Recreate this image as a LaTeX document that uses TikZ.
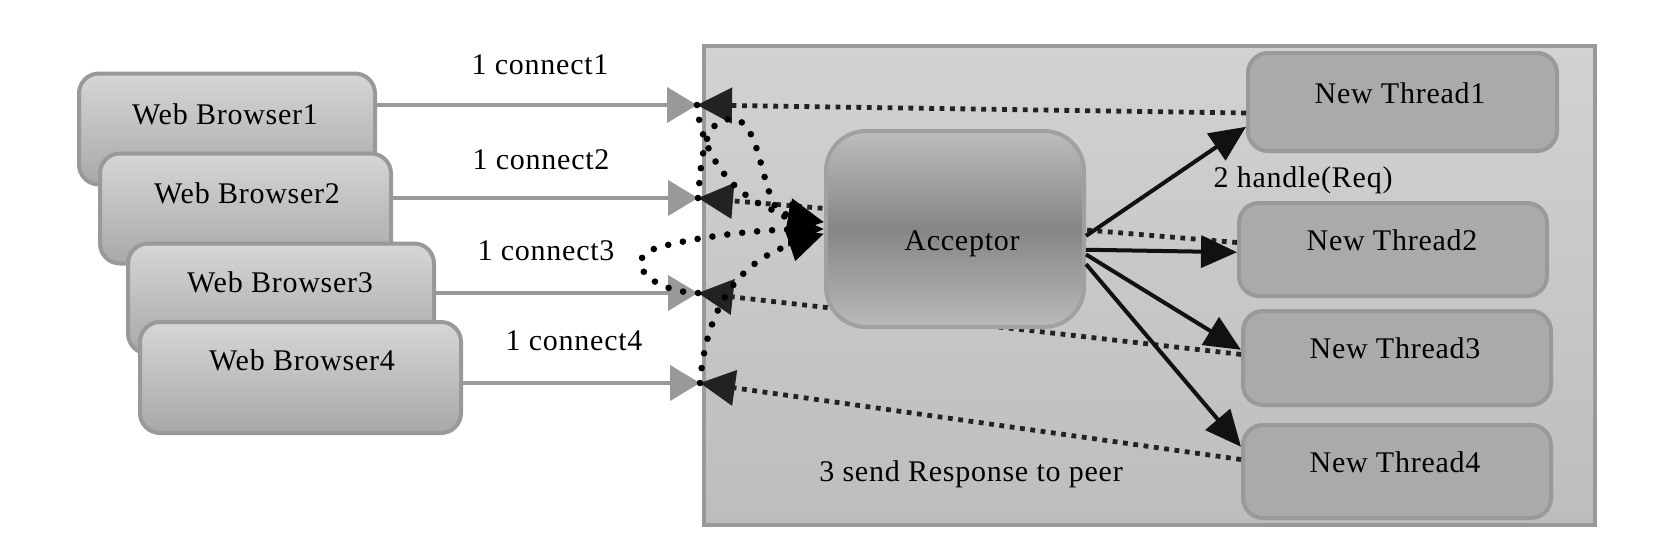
\documentclass[tikz,border=0pt]{standalone}
\usepackage{fontspec}
\setmainfont{Liberation Serif}[LetterSpace=2.5]
\usetikzlibrary{arrows.meta,calc}
\definecolor{bordergray}{HTML}{999999}
\definecolor{contTop}{HTML}{D2D2D2}
\definecolor{contBot}{HTML}{BDBDBD}
\definecolor{brTop}{HTML}{D6D6D6}
\definecolor{brBot}{HTML}{A8A8A8}
\definecolor{thFill}{HTML}{AAAAAA}
\definecolor{accTop}{HTML}{BDBDBD}
\definecolor{accMid}{HTML}{858585}
\definecolor{accBot}{HTML}{BABABA}
\definecolor{accBorder}{HTML}{A0A0A0}
\definecolor{darkline}{HTML}{222222}
\definecolor{solidline}{HTML}{111111}
\tikzset{
  container/.style={draw=bordergray, line width=2.2pt, top color=contTop, bottom color=contBot, inner sep=0pt},
  browser/.style={draw=bordergray, line width=2pt, rounded corners=10pt, top color=brTop, bottom color=brBot, inner sep=0pt},
  thread/.style={draw=bordergray, line width=2pt, rounded corners=10pt, fill=thFill, inner sep=0pt, minimum width=154pt},
  acceptorbox/.style={draw=accBorder, line width=2pt, rounded corners=20pt, top color=accTop, bottom color=accBot, middle color=accMid, inner sep=0pt},
  lbl/.style={inner sep=0pt, text=black},
  greyarrow/.style={draw=bordergray, line width=2pt, -{Triangle[length=15pt,width=17.5pt,color=bordergray]}},
  backline/.style={draw=darkline, line width=2.4pt, dash pattern=on 2.4pt off 2.8pt, -{Triangle[length=17.5pt,width=17.5pt,color=darkline]}},
  solidarrow/.style={draw=solidline, line width=2pt, -{Triangle[length=18pt,width=16pt,color=solidline]}},
  dotcurve/.style={draw=black, line width=3.3pt, line cap=round, dash pattern=on 0pt off 7.5pt, -{Triangle[length=18pt,width=16pt,color=black]}}
}
\begin{document}
\begin{tikzpicture}[x=0.5pt, y=-0.5pt, font=\fontsize{15}{18}\selectfont]
\useasboundingbox (0,0) rectangle (1654,546);

% container
\node[container, minimum width=445.5pt, minimum height=239.5pt] (box) at (1149.5,285.5) {};

% browsers
\node[browser, minimum width=148pt, minimum height=55.5pt] (b1) at (227,129) {};
\node[browser, minimum width=145.5pt, minimum height=55pt] (b2) at (245.5,208.5) {};
\node[browser, minimum width=153pt, minimum height=55pt] (b3) at (281,298.5) {};
\node[browser, minimum width=160.5pt, minimum height=55.5pt] (b4) at (300.5,377.5) {};
\node[lbl] (b1t) at (225,114) {Web Browser1};
\node[lbl] (b2t) at (247,193) {Web Browser2};
\node[lbl] (b3t) at (280,282) {Web Browser3};
\node[lbl] (b4t) at (302,360) {Web Browser4};

% end points at the container edge
\coordinate (p1) at (697,105);
\coordinate (p2) at (698,198);
\coordinate (p3) at (698,293);
\coordinate (p4) at (700,383);

% grey connect arrows
\draw[greyarrow] (b1.east |- p1) -- (p1);
\draw[greyarrow] (b2.east |- p2) -- (p2);
\draw[greyarrow] (b3.east |- p3) -- (p3);
\draw[greyarrow] (b4.east |- p4) -- (p4);

% threads
\node[thread, minimum width=154.5pt, minimum height=49pt] (t1) at (1402.5,102) {};
\node[thread, minimum height=46.5pt] (t2) at (1393,249.5) {};
\node[thread, minimum height=47pt] (t3) at (1397,358) {};
\node[thread, minimum height=46.5pt] (t4) at (1397,471.5) {};

% response lines (behind acceptor)
\draw[backline] ([yshift=-5.5pt]t1.west) -- (p1);
\draw[backline] ([yshift=3.5pt]t2.west) -- (p2);
\draw[backline] ([yshift=1.8pt]t3.west) -- (p3);
\draw[backline] ([yshift=6pt]t4.west) -- (p4);

% acceptor
\node[acceptorbox, minimum width=129pt, minimum height=98pt] (a) at (955,229) {};
\node[lbl] (at) at (962,244) {Acceptor};

% thread texts
\node[lbl] (t1t) at (1400,93) {New Thread1};
\node[lbl] (t2t) at (1392,240) {New Thread2};
\node[lbl] (t3t) at (1395,348) {New Thread3};
\node[lbl] (t4t) at (1395,462) {New Thread4};

% handle arrows
\draw[solidarrow] (a.357) -- (t1.189);
\draw[solidarrow] (a.351) -- (t2.181);
\draw[solidarrow] (a.349.5) -- (t3.177);
\draw[solidarrow] (a.345.6) -- (t4.171);

% dotted request curves to acceptor
\draw[dotcurve] (p1) .. controls (702,160) and (740,205) .. (a.177);
\draw[dotcurve] (p2) .. controls (702,150) and (705,118) .. (733,119) .. controls (765,121) and (760,215) .. (a.177);
\draw[dotcurve] (p3) .. controls (650,292) and (618,258) .. (660,247) .. controls (700,236) and (760,230) .. (a.180);
\draw[dotcurve] (p4) .. controls (705,320) and (730,265) .. (a.182);

% labels
\node[lbl] (l1) at (540,65) {1 connect1};
\node[lbl] (l2) at (541,160) {1 connect2};
\node[lbl] (l3) at (546,251) {1 connect3};
\node[lbl] (l4) at (574,341) {1 connect4};
\node[lbl] (l5) at (1303,180) {2 handle(Req)};
\node[lbl] (l6) at (971,474) {3 send Response to peer};
\end{tikzpicture}
\end{document}
